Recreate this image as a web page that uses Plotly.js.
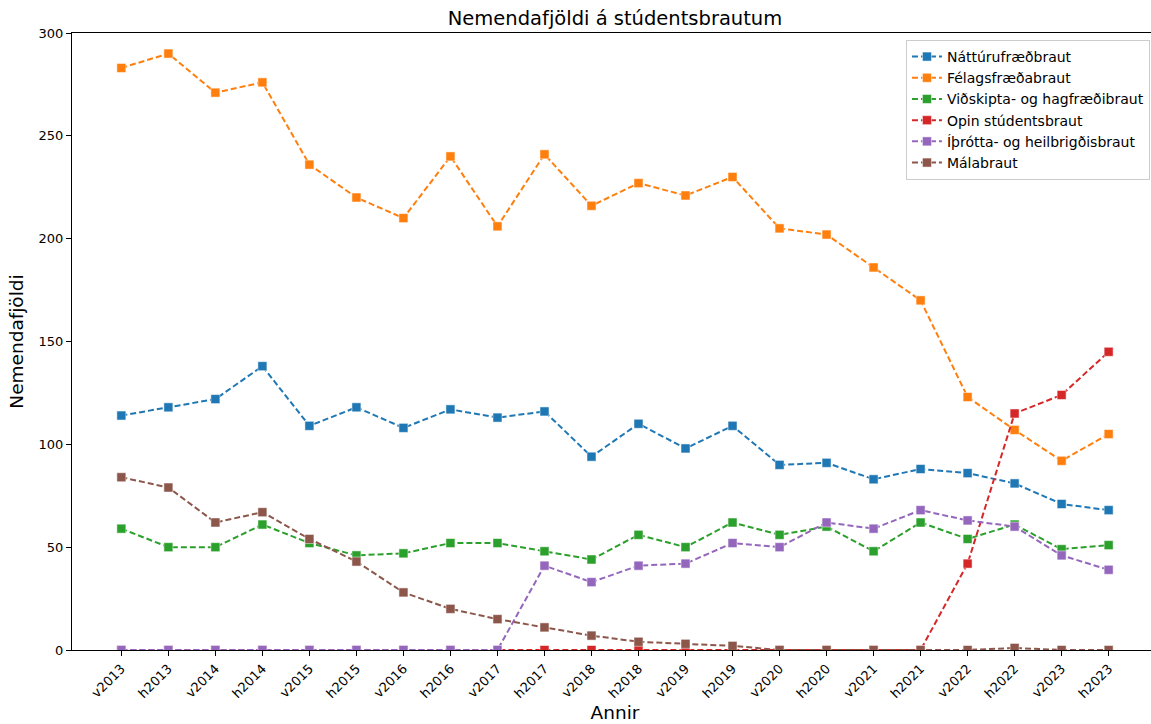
<!DOCTYPE html>
<html>
<head>
<meta charset="utf-8">
<script src="https://cdn.plot.ly/plotly-3.0.1.min.js"></script>
<style>html,body{margin:0;padding:0;background:#fff;overflow:hidden;}#chart{width:1158px;height:724px;}</style>
</head>
<body>
<div id="chart"></div>
<script>
const categories = ["v2013","h2013","v2014","h2014","v2015","h2015","v2016","h2016","v2017","h2017","v2018","h2018","v2019","h2019","v2020","h2020","v2021","h2021","v2022","h2022","v2023","h2023"];
const seriesNames = ["Náttúrufræðbraut","Félagsfræðabraut","Viðskipta- og hagfræðibraut","Opin stúdentsbraut","Íþrótta- og heilbrigðisbraut","Málabraut"];
const natturufraedi = [114,118,122,138,109,118,108,117,113,116,94,110,98,109,90,91,83,88,86,81,71,68];
const felagsfraedi = [283,290,271,276,236,220,210,240,206,241,216,227,221,230,205,202,186,170,123,107,92,105];
const vidskipta = [59,50,50,61,52,46,47,52,52,48,44,56,50,62,56,60,48,62,54,61,49,51];
const opin = [0,0,0,0,0,0,0,0,0,0,0,0,0,0,0,0,0,0,42,115,124,145];
const ithrotta = [0,0,0,0,0,0,0,0,0,41,33,41,42,52,50,62,59,68,63,60,46,39];
const mala = [84,79,62,67,54,43,28,20,15,11,7,4,3,2,0,0,0,0,0,1,0,0];
const colors = ["#1f77b4","#ff7f0e","#2ca02c","#d62728","#9467bd","#8c564b"];
const allSeries = [natturufraedi,felagsfraedi,vidskipta,opin,ithrotta,mala];

const traces = allSeries.map((vals,i)=>({
  x: categories.map((c,j)=>j),
  y: vals,
  name: seriesNames[i],
  type: 'scatter',
  mode: 'lines+markers',
  line: {color: colors[i], width: 2, dash: '6px,3px'},
  marker: {symbol: 'square', size: 9, color: colors[i], line: {color: '#ffffff', width: 0.5}}
}));

const font = "DejaVu Sans, sans-serif";
const layout = {
  width: 1158, height: 724,
  margin: {l: 72, r: 0, t: 33, b: 74},
  paper_bgcolor: '#fff', plot_bgcolor: '#fff',
  font: {family: font, color: '#000', size: 13},
  title: {text: 'Nemendafjöldi á stúdentsbrautum', font: {family: font, size: 19.5, color: '#000'}, x: 0.5, xanchor: 'center', xref: 'paper', y: 0.975, yanchor: 'middle'},
  xaxis: {
    range: [-1.05, 22.05],
    tickmode: 'array', tickvals: categories.map((c,j)=>j), ticktext: categories,
    tickangle: -45, ticks: 'outside', ticklen: 5, tickcolor: '#000', tickwidth: 1,
    showline: true, linecolor: '#000', linewidth: 1, mirror: true,
    showgrid: false, zeroline: false,
    tickfont: {family: font, size: 13, color: '#000'},
    title: {text: 'Annir', font: {family: font, size: 18.5, color: '#000'}, standoff: 6}
  },
  yaxis: {
    range: [0, 300], tickvals: [0,50,100,150,200,250,300],
    ticks: 'outside', ticklen: 5, tickcolor: '#000', tickwidth: 1,
    showline: true, linecolor: '#000', linewidth: 1, mirror: true,
    showgrid: false, zeroline: false,
    tickfont: {family: font, size: 13, color: '#000'},
    title: {text: 'Nemendafjöldi', font: {family: font, size: 18.5, color: '#000'}, standoff: 10}
  },
  legend: {
    x: 0.9926, xanchor: 'right', y: 0.9887, yanchor: 'top',
    bgcolor: 'rgba(255,255,255,0.8)', bordercolor: '#cccccc', borderwidth: 1,
    font: {family: font, size: 14, color: '#000'},
    itemwidth: 30
  },
  showlegend: true
};

Plotly.newPlot('chart', traces, layout, {displayModeBar: false, staticPlot: true});
</script>
</body>
</html>
